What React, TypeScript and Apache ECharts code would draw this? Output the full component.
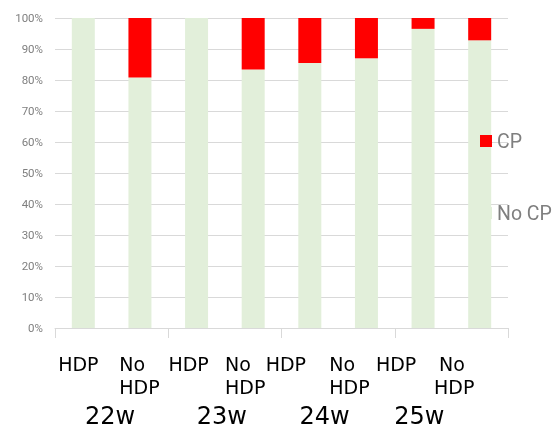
import React, { useEffect, useRef } from "react";
import * as echarts from "echarts";

const categories = ["HDP", "No HDP", "HDP", "No HDP", "HDP", "No HDP", "HDP", "No HDP"];
const groups = ["22w", "23w", "24w", "25w"];
const noCP = [100, 80.8, 100, 83.4, 85.5, 87.0, 96.5, 92.8];
const cp = [0, 19.2, 0, 16.6, 14.5, 13.0, 3.5, 7.2];
const yTicks = [0, 10, 20, 30, 40, 50, 60, 70, 80, 90, 100];

// layout: per-label horizontal shifts (padding right) to mimic the reference placement
const catPadRight = [10, 1, 16, 16, 48, 34, 54, 51];
const catNoPadLeft = [0, 0, 0, 0, 0, 0, 0, 5];
const groupPadRight = [3, 6, 27, 64];

export default function App() {
  const ref = useRef<HTMLDivElement>(null);
  useEffect(() => {
    if (!ref.current) return;
    const chart = echarts.init(ref.current, null, { renderer: "svg" });
    const catFont = { fontFamily: "DejaVu Sans", fontSize: 19, color: "#000", lineHeight: 23.5 };
    const rich: any = {};
    categories.forEach((_, i) => {
      rich["h" + i] = { ...catFont, align: "left", padding: [0, catPadRight[i], 0, 0] };
      rich["n" + i] = { ...catFont, align: "left", padding: [0, 0, 0, catNoPadLeft[i]] };
    });
    const grich: any = {};
    groups.forEach((_, i) => {
      grich["g" + i] = { fontFamily: "DejaVu Sans", fontSize: 24, color: "#000", padding: [0, groupPadRight[i], 0, 0] };
    });
    chart.setOption({
      animation: false,
      grid: { left: 55, right: 46, top: 18, bottom: 101 },
      legend: {
        orient: "vertical",
        left: 480,
        top: 131,
        padding: 0,
        itemWidth: 12,
        itemHeight: 12,
        itemGap: 52,
        icon: "rect",
        data: ["CP", "No CP"],
        textStyle: { fontFamily: "Roboto", fontSize: 19.5, color: "#7f7f7f" },
      },
      xAxis: [
        {
          type: "category",
          position: "bottom",
          data: categories,
          axisLine: { lineStyle: { color: "#d9d9d9" } },
          axisTick: { show: false },
          axisLabel: {
            interval: 0,
            margin: 24,
            formatter: (v: string, i: number) => {
              if (v === "No HDP") return `{n${i}|No}\n{h${i}|HDP}`;
              return `{h${i}|HDP}`;
            },
            rich,
          },
        },
        {
          type: "category",
          position: "bottom",
          data: groups,
          axisLine: { show: false },
          axisTick: { show: true, length: 10, interval: 0, lineStyle: { color: "#d9d9d9" } },
          axisLabel: {
            interval: 0,
            margin: 76,
            formatter: (v: string, i: number) => `{g${i}|${v}}`,
            rich: grich,
          },
        },
      ],
      yAxis: {
        type: "value",
        min: yTicks[0],
        max: yTicks[yTicks.length - 1],
        interval: 10,
        axisLine: { show: false },
        axisTick: { show: false },
        splitLine: { lineStyle: { color: "#d9d9d9" } },
        axisLabel: {
          formatter: "{value}%",
          margin: 12,
          fontFamily: "Roboto",
          fontSize: 11.5,
          color: "#7f7f7f",
        },
      },
      series: [
        {
          name: "No CP",
          type: "bar",
          stack: "total",
          xAxisIndex: 0,
          data: noCP,
          barWidth: 23,
          itemStyle: { color: "#e2efda" },
        },
        {
          name: "CP",
          type: "bar",
          stack: "total",
          xAxisIndex: 0,
          data: cp,
          barWidth: 23,
          itemStyle: { color: "#ff0000" },
        },
      ],
    });
    return () => chart.dispose();
  }, []);
  return <div ref={ref} style={{ position: "fixed", left: 0, top: 0, width: 554, height: 429 }} />;
}
